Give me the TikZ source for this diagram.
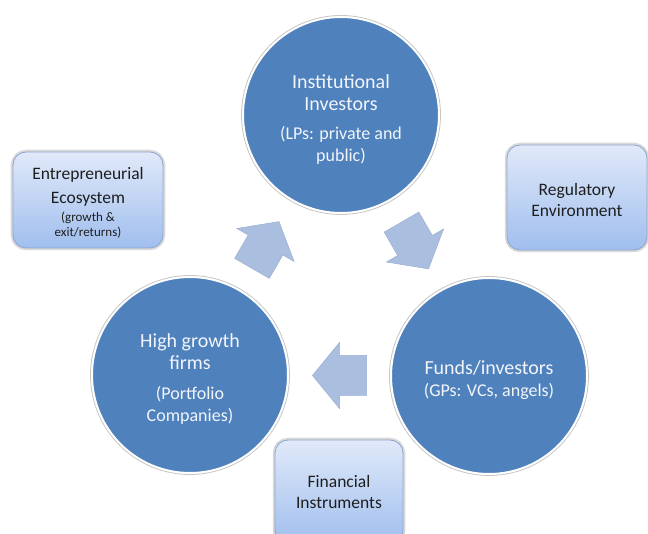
\documentclass[tikz,border=0pt]{standalone}
\usepackage{fontspec}
\setmainfont{Carlito}
\usetikzlibrary{calc}

\definecolor{hubblue}{RGB}{79,129,189}
\definecolor{hubtext}{RGB}{242,245,250}
\definecolor{flowfill}{RGB}{170,190,224}
\definecolor{flowedge}{RGB}{155,175,210}
\definecolor{boxtop}{RGB}{224,233,249}
\definecolor{boxbottom}{RGB}{160,190,238}
\definecolor{boxedge}{RGB}{140,165,205}
\definecolor{boxtext}{RGB}{30,30,30}

\newcommand{\hubmain}{\fontsize{20bp}{22bp}\selectfont}
\newcommand{\hubsub}{\fontsize{18bp}{21bp}\selectfont}
\newcommand{\boxmain}{\fontsize{17.5bp}{21bp}\selectfont}
\newcommand{\boxwide}{\fontsize{17.5bp}{24bp}\selectfont}
\newcommand{\boxsub}{\fontsize{13bp}{15bp}\selectfont}

\tikzset{
  hub/.style={circle, fill=hubblue, draw=white, line width=2bp,
    minimum size=196bp, inner sep=0pt},
  hubrim/.style={draw=gray!45, line width=0.8bp},
  hublabel/.style={align=center, text=hubtext, font=\hubmain, inner sep=0pt},
  factor/.style={rectangle, rounded corners=13bp, top color=boxtop,
    bottom color=boxbottom, draw=boxedge, line width=0.8bp, inner sep=0pt,
    preaction={draw=gray!30, line width=4.5bp}},
  factorlabel/.style={align=center, text=boxtext, font=\boxmain, inner sep=0pt},
  cyclearrow/.style={fill=flowfill, draw=flowedge, line width=0.5bp},
}

\begin{document}
\begin{tikzpicture}[x=1bp,y=1bp]
  \clip (0,0) rectangle (648,534);
  \fill[white] (0,0) rectangle (648,534);

  % the three stages of the cycle
  \node[hub] (top) at (341,419) {};
  \node[hub] (lhs) at (190,159) {};
  \node[hub] (rhs) at (489,158) {};
  \foreach \c in {top,lhs,rhs}
    \draw[hubrim] (\c) circle (99.5);
  \node[hublabel] (toptext) at ($(top)+(0,-5)$)
    {Institutional\\Investors\\[7bp]\hubsub (LPs: private and\\\hubsub public)};
  \node[hublabel] (lhstext) at ($(lhs)+(0,-4)$)
    {High growth\\firms\\[8bp]\hubsub (Portfolio\\\hubsub Companies)};
  \node[hublabel] (rhstext) at ($(rhs)+(0,-4)$)
    {Funds/investors\\\hubsub (GPs: VCs, angels)};

  % block arrows between the stages
  \draw[cyclearrow, shift={($(lhs)!0.5!(top)$)}, rotate=60]
    (-27,-20) -- (0,-20) -- (0,-33) -- (27,0) -- (0,33) -- (0,20) -- (-27,20) -- cycle;
  \draw[cyclearrow, shift={($(top)!0.5!(rhs)$)}, rotate=-60]
    (-27,-20) -- (0,-20) -- (0,-33) -- (27,0) -- (0,33) -- (0,20) -- (-27,20) -- cycle;
  \draw[cyclearrow, shift={($(rhs)!0.5!(lhs)$)}, rotate=180]
    (-27,-20) -- (0,-20) -- (0,-33) -- (27,0) -- (0,33) -- (0,20) -- (-27,20) -- cycle;

  % surrounding factors
  \node[factor, minimum width=150bp, minimum height=96bp] (eco) at (88,334) {};
  \node[factor, minimum width=140bp, minimum height=105bp] (reg) at (577,336.5) {};
  \node[factor, minimum width=128bp, minimum height=104bp] (fin) at (339,42) {};
  \node[factorlabel, font=\boxwide] (ecotext) at ($(eco)+(0,-3)$)
    {Entrepreneurial\\Ecosystem\\[-6bp]\boxsub (growth \&\\[-9bp]\boxsub exit/returns)};
  \node[factorlabel] (regtext) at ($(reg)+(0,-2.5)$) {Regulatory\\Environment};
  \node[factorlabel] (fintext) at ($(fin)+(0,0)$) {Financial\\Instruments};
\end{tikzpicture}
\end{document}
